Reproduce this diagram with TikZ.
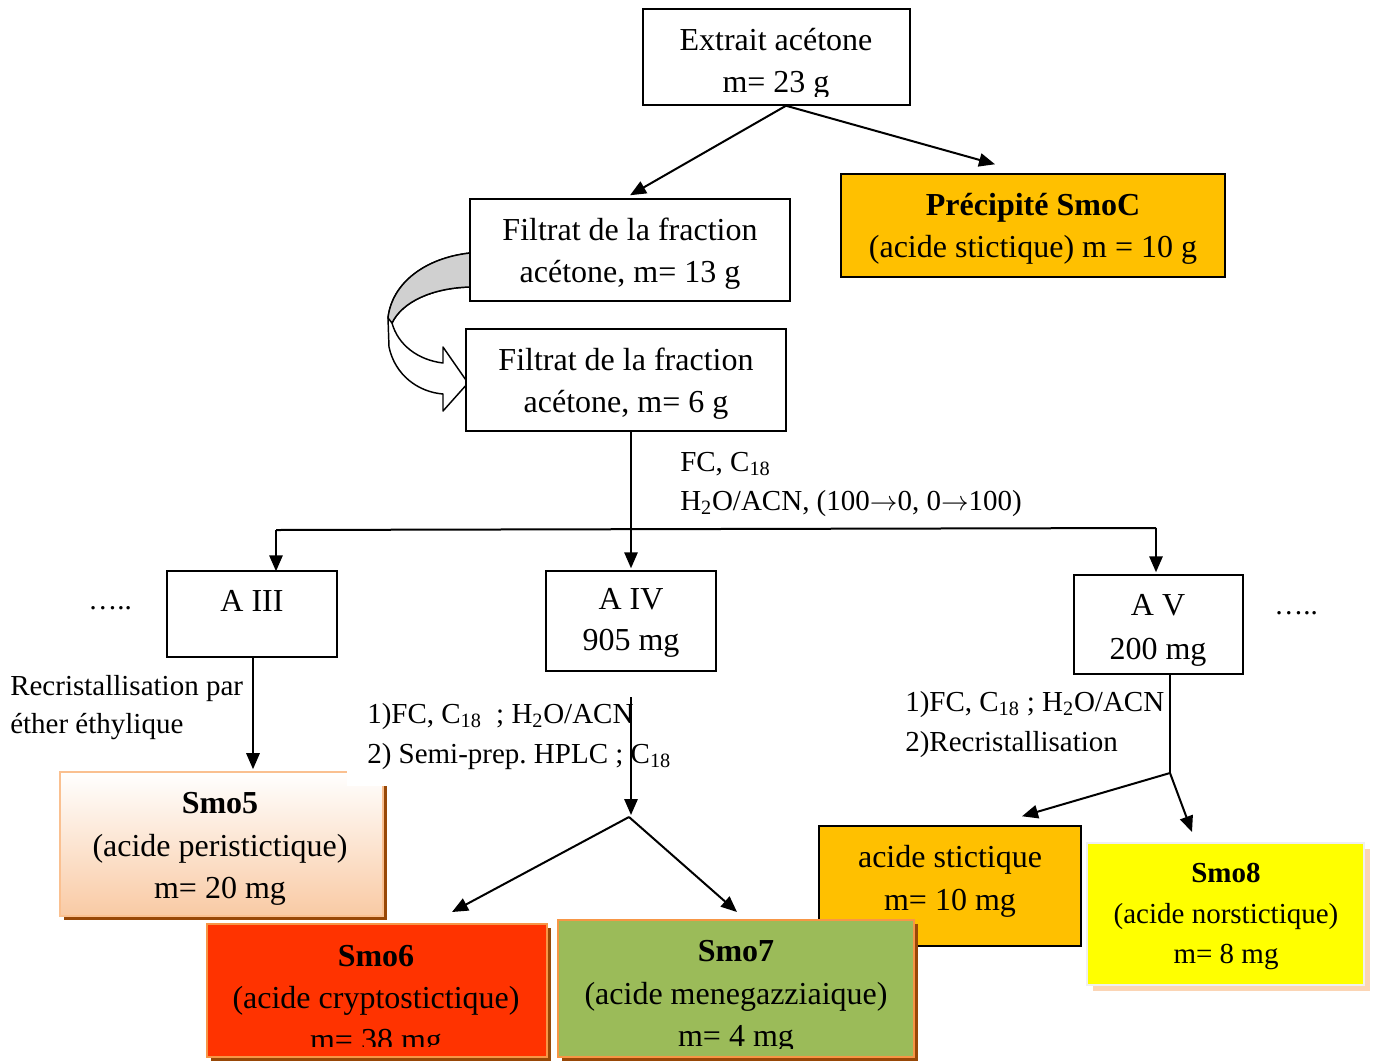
\documentclass[tikz,border=0pt]{standalone}
\usepackage{fontspec}
\setmainfont{Liberation Serif}
\usetikzlibrary{arrows.meta,calc,fit}
\frenchspacing
\definecolor{cAmber}{HTML}{FFC000}
\definecolor{cRed}{HTML}{FF3300}
\definecolor{cGreen}{HTML}{9BBB59}
\definecolor{cOrangeLine}{HTML}{F79646}
\definecolor{cPeachLine}{HTML}{FAC090}
\definecolor{cPeach}{RGB}{249,202,164}
\definecolor{cBrown}{HTML}{984807}
\definecolor{cShadow8}{HTML}{FBD5B5}
\definecolor{cYellow}{HTML}{FFFF00}
\definecolor{cGrayBand}{HTML}{D0D0D0}
\newcommand\bigfont{\fontsize{24}{29}\selectfont}
\newcommand\lblfont{\fontsize{21.75}{26}\selectfont}
\newcommand\rarr{\ensuremath{{\rightarrow}}}
\begin{document}
\begin{tikzpicture}[x=0.75pt,y=-0.75pt,
  box/.style={draw, line width=1.1pt, fill=white, inner sep=0pt},
  bt/.style={font=\bigfont, inner sep=0pt, anchor=base},
  st/.style={font=\lblfont, inner sep=0pt, anchor=base},
  lbl/.style={font=\lblfont, inner sep=0pt, anchor=base west},
  conn/.style={line width=1.5pt},
  arr/.style={line width=1.5pt, -{Triangle[length=12pt,width=10pt]}}]
\useasboundingbox (0,0) rectangle (1374,1061);

% ---- curved block arrow ----
\draw[line width=1.1pt, fill=white, line join=round]
  (470,253) .. controls (425,258) and (392,283) .. (388,318)
  -- (389,347)
  .. controls (395,375) and (418,392) .. (443,394)
  -- (443,411) -- (468,383) -- (443,347) -- (443,363)
  .. controls (418,360) and (398,345) .. (392,323)
  .. controls (402,302) and (432,288) .. (470,287) -- cycle;
\draw[line width=1.1pt, fill=cGrayBand, line join=round]
  (470,253) .. controls (425,258) and (392,283) .. (388,318)
  -- (392,323)
  .. controls (402,302) and (432,288) .. (470,287) -- cycle;

% ---- boxes ----
\node[box, fit={(643,9) (910,105)}] (ext) {};
\node[box, fit={(470,199) (790,301)}] (fil1) {};
\node[box, fit={(466,329) (786,431)}] (fil2) {};
\node[box, fill=cAmber, fit={(841,174) (1225,277)}] (prec) {};
\node[box, fit={(167,571) (337,657)}] (a3) {};
\node[box, fit={(546,571) (716,671)}] (a4) {};
\node[box, fit={(1074,575) (1243,674)}] (a5) {};

% Smo5
\fill[cBrown] (64,776) rectangle (387,920);
\node[draw=cPeachLine, line width=1.2pt, inner sep=0pt, top color=white, bottom color=cPeach,
      fit={(60,772) (383,916)}] (smo5) {};
\fill[white] (347,758) rectangle (392,786);

% acide stictique
\node[box, fill=cAmber, fit={(819,826) (1081,946)}] (acst) {};

% Smo6
\fill[cBrown] (211,928) rectangle (551,1061);
\node[draw=cOrangeLine, line width=1.5pt, fill=cRed, inner sep=0pt, fit={(207,924) (547,1057)}] (smo6) {};
% Smo7
\fill[cBrown] (562,924) rectangle (918,1061);
\node[draw=cOrangeLine, line width=1.5pt, fill=cGreen, inner sep=0pt, fit={(558,920) (914,1057)}] (smo7) {};
% Smo8
\fill[cShadow8] (1093,849) rectangle (1370,991);
\node[draw=black!6, line width=1.5pt, fill=cYellow, inner sep=0pt, fit={(1087,843) (1364,985)}] (smo8) {};

% ---- texts in boxes ----
\begin{scope}
\clip (640,0) rectangle (915,96);
\node[bt] (t1) at (776,50) {Extrait acétone};
\node[bt] (t2) at (776,92) {m= 23 g};
\end{scope}
\node[bt] (t3) at (630,240) {Filtrat de la fraction};
\node[bt] (t4) at (630,282) {acétone, m= 13 g};
\node[bt] (t5) at (626,370) {Filtrat de la fraction};
\node[bt] (t6) at (626,412) {acétone, m= 6 g};
\node[bt] (t7) at (1033,215) {\bfseries Précipité SmoC};
\node[bt] (t8) at (1033,257) {(acide stictique) m = 10 g};
\node[bt] (t9) at (252,611) {A III};
\node[bt] (t10) at (631,609) {A IV};
\node[bt] (t11) at (631,650) {905 mg};
\node[bt] (t12) at (1158,615) {A V};
\node[bt] (t13) at (1158,659) {200 mg};
\node[bt] (t14) at (220,813) {\bfseries Smo5};
\node[bt] (t15) at (220,856) {(acide peristictique)};
\node[bt] (t16) at (220,898) {m= 20 mg};
\node[bt] (t17) at (376,966) {\bfseries Smo6};
\node[bt] (t18) at (376,1008) {(acide cryptostictique)};
\begin{scope}
\clip (210,1000) rectangle (545,1046);
\node[bt] (t19) at (376,1050) {m= 38 mg};
\end{scope}
\node[bt] (t20) at (736,961) {\bfseries Smo7};
\node[bt] (t21) at (736,1004) {(acide menegazziaique)};
\begin{scope}
\clip (560,1000) rectangle (912,1048);
\node[bt] (t22) at (736,1046) {m= 4 mg};
\end{scope}
\node[bt] (t23) at (950,867) {acide stictique};
\node[bt] (t24) at (950,910) {m= 10 mg};
\node[st] (t25) at (1226,882) {\bfseries Smo8};
\node[st] (t26) at (1226,923) {(acide norstictique)};
\node[st] (t27) at (1226,963) {m= 8 mg};

% ---- labels ----
\node[lbl] (l1) at (680,471) {FC, C\textsubscript{18}};
\node[lbl] (l2) at (680,510) {H\textsubscript{2}O/ACN, (100\rarr0, 0\rarr100)};
\node[lbl] (l3) at (10,695) {Recristallisation par};
\node[lbl] (l4) at (10,733) {éther éthylique};
\node[lbl] (l5) at (367,723) {1)FC, C\textsubscript{18}\ \ ; H\textsubscript{2}O/ACN};
\node[lbl] (l6) at (367,763) {2) Semi-prep. HPLC ; C\textsubscript{18}};
\node[lbl] (l7) at (905,711) {1)FC, C\textsubscript{18} ; H\textsubscript{2}O/ACN};
\node[lbl] (l8) at (905,751) {2)Recristallisation};
\node[lbl] (l9) at (88,609) {…..};
\node[lbl] (l10) at (1274,614) {…..};

% ---- connectors ----
\coordinate (e0) at ($(ext.south)+(9.5,0)$);
\draw[arr] (e0) -- ($(fil1.north)+(0,-3)$);
\draw[arr] (e0) -- ($(prec.north)+(-38,-9)$);

\draw[arr] (fil2.south -| a4.north) -- ($(a4.north)+(0,-2)$);
\coordinate (hl) at (276,530);
\coordinate (hr) at (1156,528);
\draw[conn] (hl) -- (hr);
\draw[arr] (hl) -- ($(hl |- a3.north)+(0,1)$);
\draw[arr] (hr) -- ($(hr |- a5.north)+(0,-2)$);

\draw[arr] ($(a3.south)+(1,0)$) -- ($(a3.south |- smo5.north)+(1,-2)$);

\coordinate (v4) at (631,697);
\coordinate (j4) at (629,817);
\draw[arr] (v4) -- ($(v4 |- j4)+(0,-2)$);
\draw[arr] (j4) -- ($(smo6.north)+(75,-11)$);
\draw[arr] (j4) -- ($(smo7.north)+(1,-7)$);

\coordinate (j5) at (1170,773);
\draw[line width=1.2pt] (a5.south -| j5) -- (j5);
\draw[arr] (j5) -- ($(acst.north)+(72,-9)$);
\draw[arr] (j5) -- ($(smo8.north)+(-33.5,-10)$);
\end{tikzpicture}
\end{document}
